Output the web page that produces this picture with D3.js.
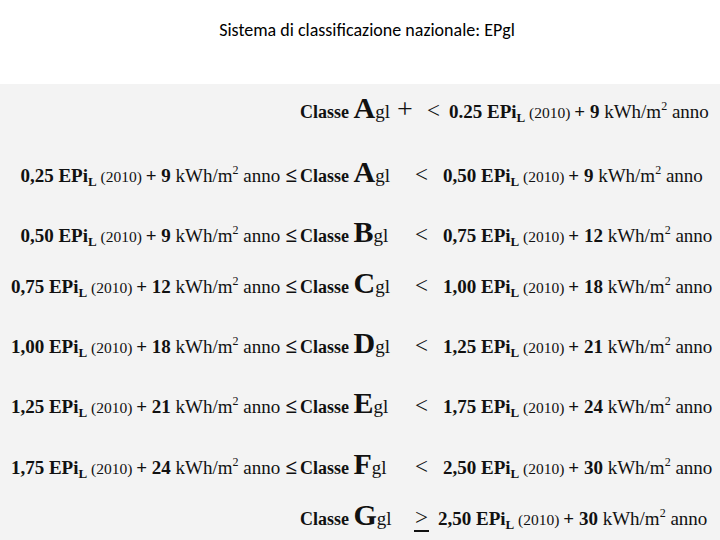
<!DOCTYPE html>
<html><head><meta charset="utf-8">
<script src="https://cdn.jsdelivr.net/npm/d3@7"></script>
<style>body{margin:0;background:#fff}</style>
</head><body>
<svg id="slide" width="720" height="540"></svg>
<script>
// classes and limits: bound = coef * EPiL(2010) + const
const classes = ['A', 'A', 'B', 'C', 'D', 'E', 'F', 'G'];
const classSuffix = ['+', '', '', '', '', '', '', ''];
const lowerCoef = [null, '0,25', '0,50', '0,75', '1,00', '1,25', '1,75', null];
const lowerConst = [null, '9', '9', '12', '18', '21', '24', null];
const upperCoef = ['0.25', '0,50', '0,75', '1,00', '1,25', '1,75', '2,50', '2,50'];
const upperConst = ['9', '9', '12', '18', '21', '24', '30', '30'];

const svg = d3.select('#slide');
svg.append('text').attr('x', 367).attr('y', 36).attr('text-anchor', 'middle')
  .style('font-family', 'Carlito, "Liberation Sans", sans-serif').style('font-size', '18px')
  .text('Sistema di classificazione nazionale: EPgl');
svg.append('rect').attr('x', 0).attr('y', 84).attr('width', 720).attr('height', 456).attr('fill', '#f3f3f3');

const rowY = [118, 182, 242, 293, 353, 413, 474, 525];

function expr(t, coef, cst) {
  const seg = [
    [coef + ' EPi', 'bold', 19, 0],
    ['L', 'bold', 13, 4],
    [' (2010) ', 'normal', 15.5, -4],
    ['+ ' + cst + ' ', 'bold', 19, 0],
    ['kWh/m', 'normal', 19, 0],
    ['2', 'normal', 12, -8],
    [' anno', 'normal', 19, 8]
  ];
  seg.forEach(s => t.append('tspan').attr('dy', s[3]).style('font-weight', s[1]).style('font-size', s[2] + 'px').text(s[0]));
}

const g = svg.append('g').style('font-family', '"Liberation Serif", "DejaVu Serif", serif').attr('fill', '#111');
classes.forEach((c, i) => {
  const yy = rowY[i];
  if (lowerCoef[i]) {
    const t = g.append('text').attr('x', 297).attr('y', yy).attr('text-anchor', 'end');
    expr(t, lowerCoef[i], lowerConst[i]);
    t.append('tspan').style('font-size', '21px').style('font-weight', 'bold').text(' ≤');
  }
  const k = g.append('text').attr('x', 300).attr('y', yy);
  k.append('tspan').style('font-weight', 'bold').style('font-size', '18px').text('Classe ');
  k.append('tspan').style('font-weight', 'bold').style('font-size', '30px').text(c);
  k.append('tspan').style('font-size', '19px').text('gl');
  if (classSuffix[i]) k.append('tspan').style('font-size', '28px').text(' ' + classSuffix[i]);
  const last = i === classes.length - 1;
  g.append('text').attr('x', i === 0 ? 427 : 415).attr('y', yy).style('font-size', '23px').text(last ? '>' : '<');
  if (last) g.append('line').attr('x1', 414).attr('x2', 429).attr('y1', yy + 6).attr('y2', yy + 6).attr('stroke', '#111').attr('stroke-width', 2);
  const t = g.append('text').attr('x', i === 0 ? 449 : (last ? 438 : 443)).attr('y', yy);
  expr(t, upperCoef[i], upperConst[i]);
});
</script>
</body></html>
